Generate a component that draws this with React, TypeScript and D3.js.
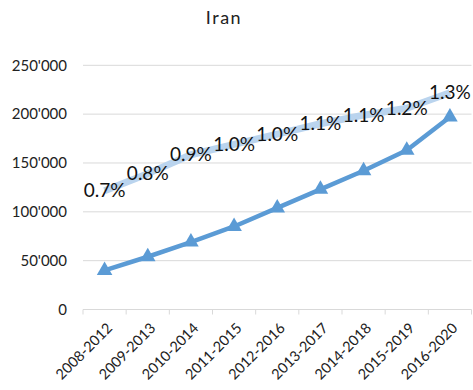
import React from "react";
import * as d3 from "d3";

const categories = ["2008-2012", "2009-2013", "2010-2014", "2011-2015", "2012-2016", "2013-2017", "2014-2018", "2015-2019", "2016-2020"];
const counts = [40000, 54000, 69000, 85000, 104000, 123000, 142000, 163000, 197000];
const shares = [0.69, 0.79, 0.9, 0.96, 1.02, 1.08, 1.13, 1.17, 1.26];
const yTicks = [0, 50000, 100000, 150000, 200000, 250000];
const title = "Iran";

const W = 473;
const H = 390;
const FONT = "Lato, 'Liberation Sans', sans-serif";

export default function App() {
  const x = d3.scaleBand<string>().domain(categories).range([83, 471.5]);
  const y = d3.scaleLinear().domain([0, 250000]).range([309.5, 65.3]);
  const y2 = d3.scaleLinear().domain([0, 1.42]).range([309.5, 65.3]);
  const cx = (c: string) => (x(c) as number) + x.bandwidth() / 2;

  const countLine = d3.line<number>().x((_, i) => cx(categories[i])).y((d) => y(d));
  const shareLine = d3.line<number>().x((_, i) => cx(categories[i])).y((d) => y2(d));
  const tri = d3.symbol().type(d3.symbolTriangle).size(105)();
  const fmt = (v: number) => v === 0 ? "0" : d3.format(",")(v).replace(/,/g, "'");

  return (
    <svg width={W} height={H} style={{ position: "absolute", left: 0, top: 0, background: "#fff" }}>
      <text x={224} y={24} textAnchor="middle" fontFamily={FONT} fontSize={18} fill="#222" letterSpacing={1.5}>{title}</text>
      {yTicks.map((t) => (
        <g key={t}>
          {t > 0 && <line x1={83} x2={471.5} y1={y(t)} y2={y(t)} stroke="#D9D9D9" strokeWidth={1} />}
          <text x={67} y={y(t)} dy="0.35em" textAnchor="end" fontFamily={FONT} fontSize={15} fill="#222">{fmt(t)}</text>
        </g>
      ))}
      <line x1={83} x2={471.5} y1={y(0)} y2={y(0)} stroke="#D9D9D9" strokeWidth={1} />
      {categories.map((c) => (
        <line key={"t" + c} x1={x(c) as number} x2={x(c) as number} y1={y(0)} y2={y(0) + 5} stroke="#D9D9D9" />
      ))}
      <line x1={471.5} x2={471.5} y1={y(0)} y2={y(0) + 5} stroke="#D9D9D9" />
      {categories.map((c) => (
        <text key={"l" + c} transform={`translate(${cx(c) + 5},${y(0) + 16}) rotate(-45)`} textAnchor="end" dy="0.35em" fontFamily={FONT} fontSize={14.5} fill="#222">{c}</text>
      ))}
      <path d={shareLine(shares) || ""} fill="none" stroke="#BAD4EE" strokeWidth={7} strokeLinejoin="round" />
      <path d={countLine(counts) || ""} fill="none" stroke="#5B9BD5" strokeWidth={4.5} strokeLinejoin="round" />
      {counts.map((v, i) => (
        <path key={"m" + i} d={tri || ""} transform={`translate(${cx(categories[i])},${y(v)})`} fill="#5B9BD5" />
      ))}
      {shares.map((v, i) => (
        <text key={"s" + i} x={cx(categories[i])} y={y2(v)} dy="0.35em" textAnchor="middle" fontFamily={FONT} fontSize={19} fill="#111">{v.toFixed(1) + "%"}</text>
      ))}
    </svg>
  );
}
